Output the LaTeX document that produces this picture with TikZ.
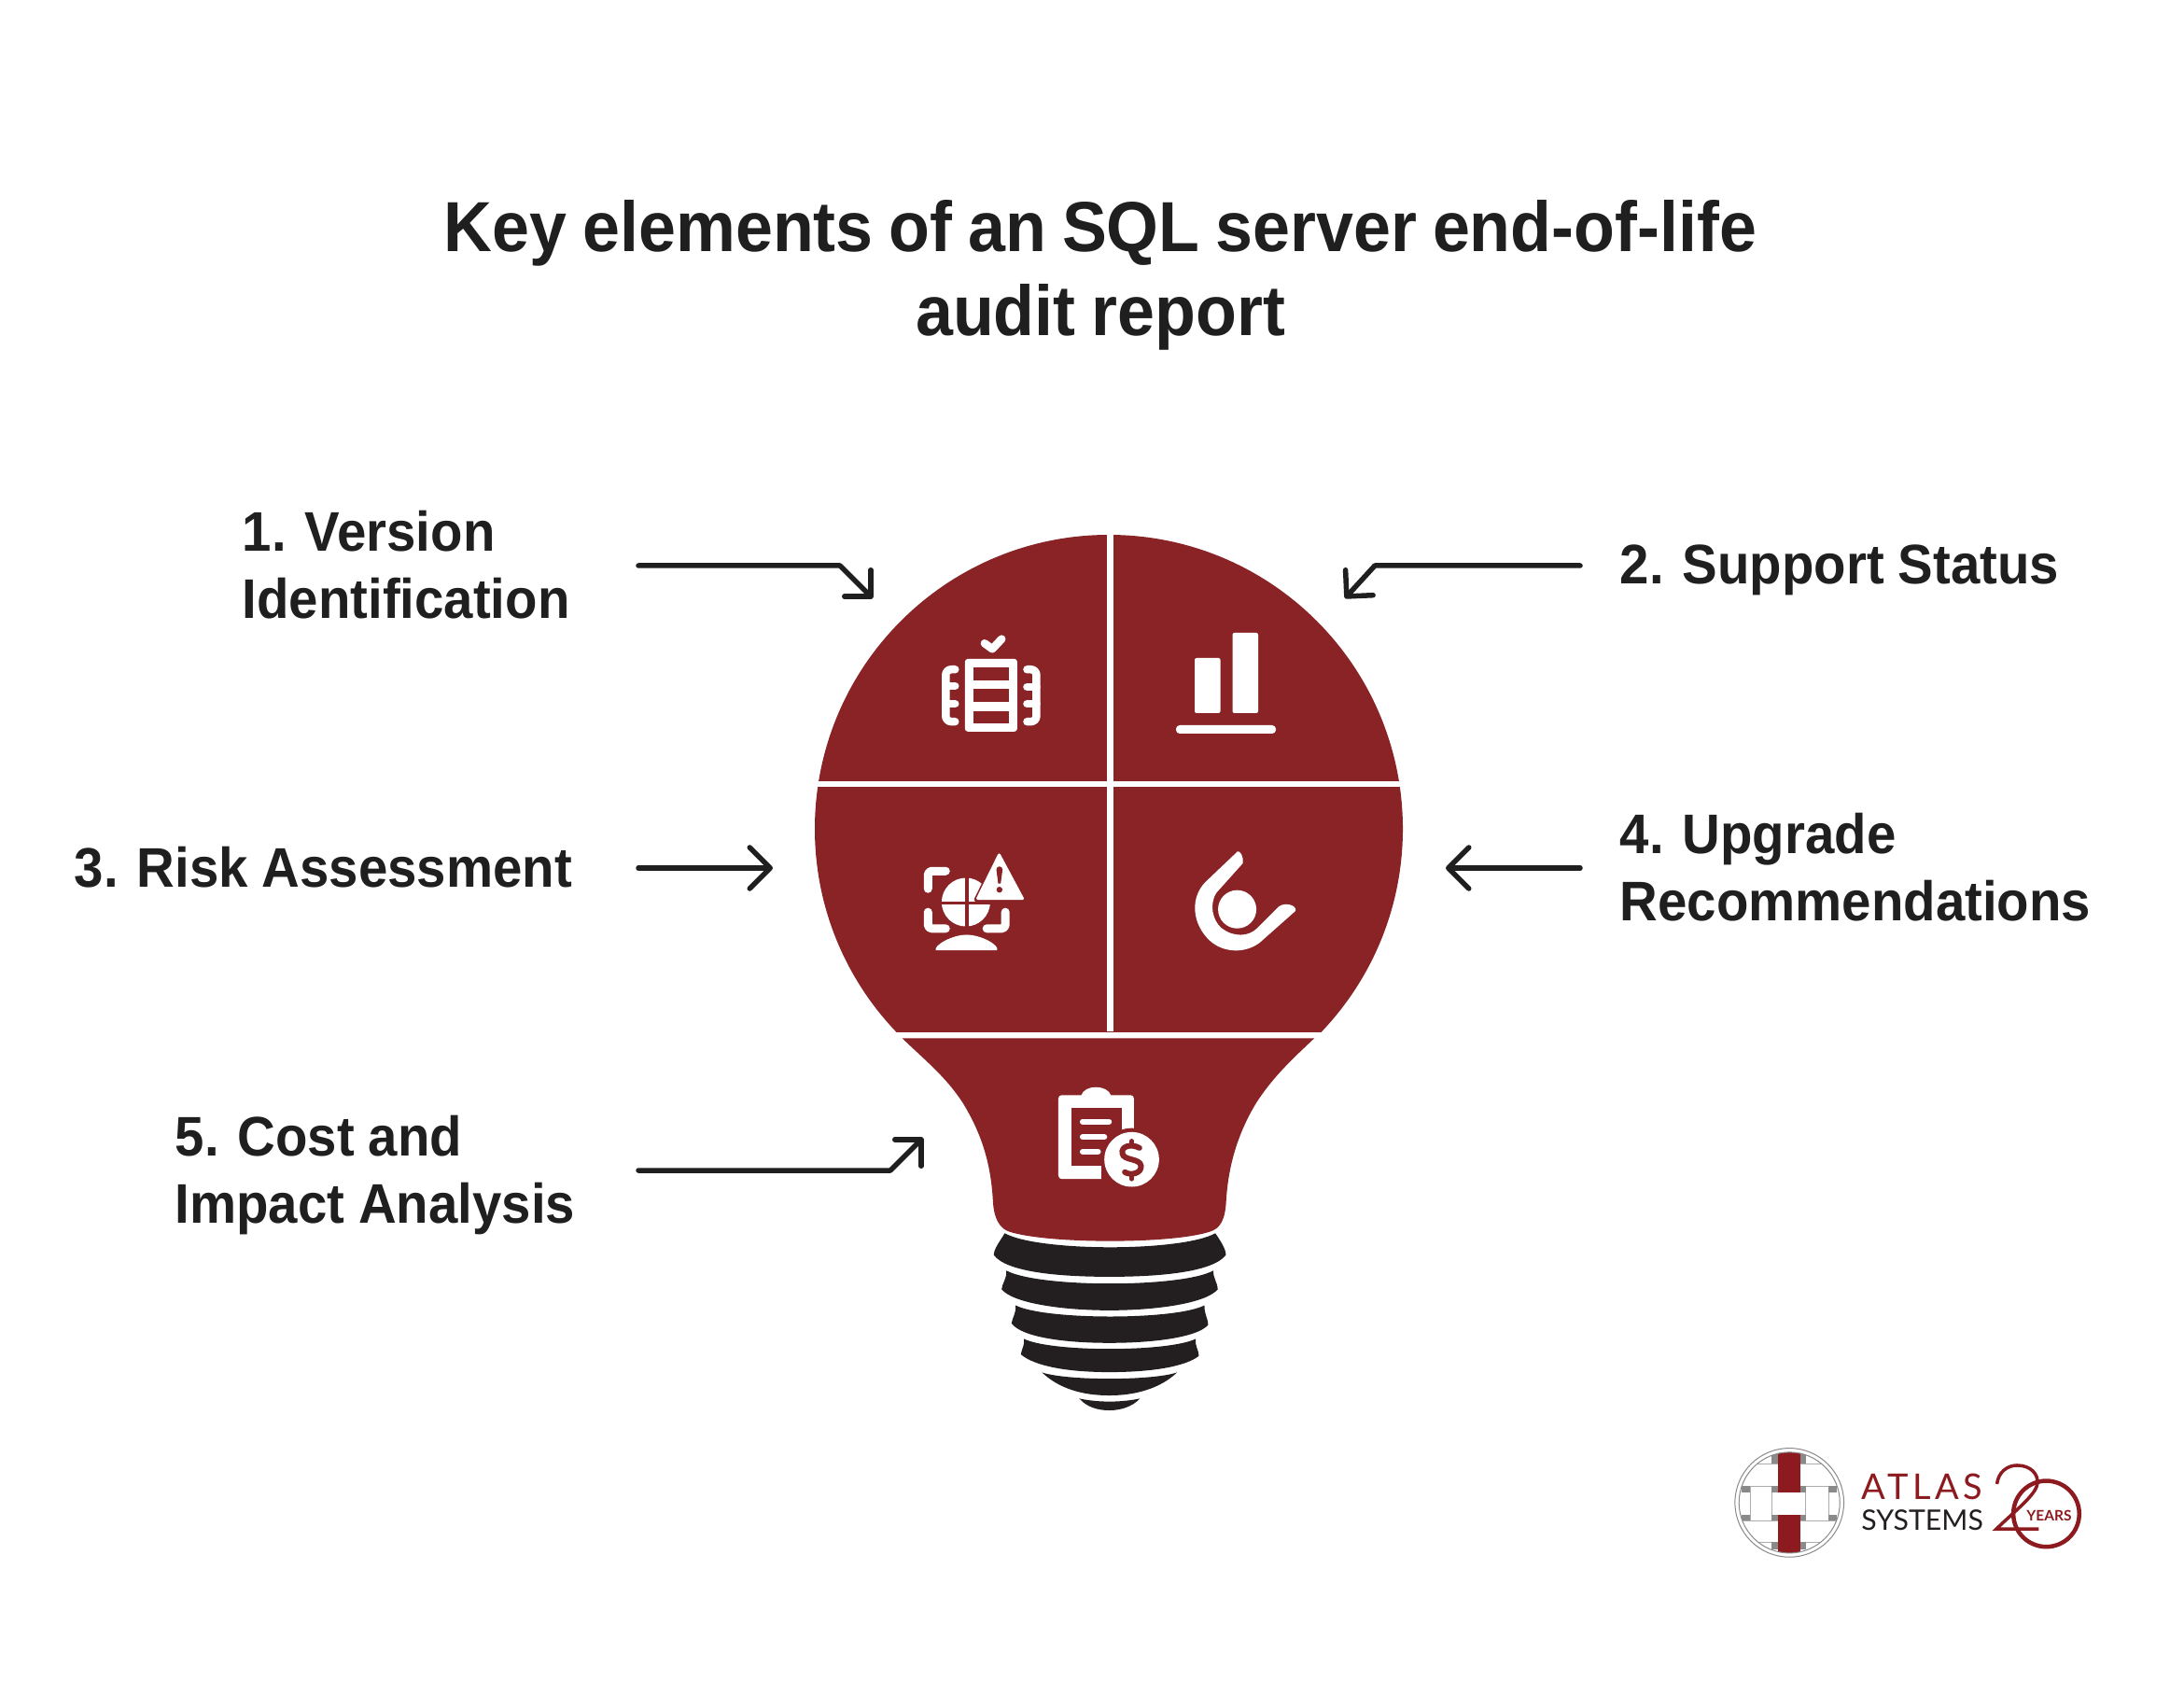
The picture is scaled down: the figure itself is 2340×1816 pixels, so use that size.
\documentclass[tikz,border=0pt]{standalone}
\usepackage{fontspec}
\usetikzlibrary{arrows.meta}
\setmainfont{Liberation Sans}
\newfontfamily\titlef[FakeStretch=0.945,WordSpace=0.85]{Liberation Sans}
\newfontfamily\labf[FakeStretch=0.943,WordSpace=0.95]{Liberation Sans}
\newfontfamily\logoa[LetterSpace=12]{Lato}
\newfontfamily\logob{Lato}
\definecolor{brick}{HTML}{8A2325}
\definecolor{lampblack}{HTML}{231F20}
\definecolor{ink}{HTML}{1F1F1F}
\definecolor{logored}{HTML}{8C1A1E}
\definecolor{logogrey}{HTML}{8A8A8A}
\tikzset{
  x=0.01cm,y=-0.01cm,
  zoomed/.style={x=0.003333cm,y=-0.003333cm},
  titletext/.style={font=\titlef\bfseries\fontsize{21.6}{26}\selectfont,text=ink,inner sep=0,anchor=base},
  labeltext/.style={font=\labf\bfseries\fontsize{17}{20.5}\selectfont,text=ink,inner sep=0,align=left,anchor=north west},
  pointer/.style={draw=ink,line width=0.055cm,line cap=round,line join=round,-{Straight Barb[length=0.22cm,width=0.44cm,round]}},
  bentpointer/.style={draw=ink,line width=0.055cm,line cap=round,line join=round,-{Straight Barb[length=0.2cm,width=0.4cm,round]}},
  iconline/.style={draw=white,line width=0.085cm,line cap=round,line join=round},
  noteline/.style={draw=white,line width=0.06cm,line cap=round},
  thinlogo/.style={draw=logogrey!70,line width=0.008cm},
  logosq/.style={fill=logogrey}
}
\begin{document}
\begin{tikzpicture}
\useasboundingbox (0,0) rectangle (2340,1816);
\fill[white] (0,0) rectangle (2340,1816);
% title
\node[titletext] (title1) at (1179,270) {Key elements of an SQL server end-of-life};
\node[titletext] (title2) at (1179,360) {audit report};
% labels
\node[labeltext] (lab1) at (259,546) {1. Version\\Identification};
\node[labeltext] (lab2) at (1735,583) {2. Support Status};
\node[labeltext] (lab3) at (79,906) {3. Risk Assessment};
\node[labeltext] (lab4) at (1735,870) {4. Upgrade\\Recommendations};
\node[labeltext] (lab5) at (187,1194) {5. Cost and\\Impact Analysis};
% bulb head
\begin{scope}
\clip (800,500) rectangle (1600,1105);
\fill[brick] (1188,888) circle [radius=315];
\end{scope}
% neck and base
\begin{scope}[shift={(950,1100)},zoomed]
\fill[brick] (50,37) .. controls (120,105) and (190,160) .. (245,245) .. controls (300,335) and (335,430) .. (342,560) .. controls (345,620) and (365,650) .. (395,660) .. controls (520,700) and (920,700) .. (1040,660) .. controls (1075,650) and (1090,620) .. (1093,560) .. controls (1100,440) and (1135,335) .. (1190,245) .. controls (1245,160) and (1305,105) .. (1377,37) -- cycle;
\fill[lampblack] (380,665) .. controls (490,725) and (950,725) .. (1058,665) .. controls (1075,690) and (1092,715) .. (1092,735) .. controls (1050,790) and (880,805) .. (717,805) .. controls (555,805) and (385,790) .. (345,735) .. controls (345,715) and (365,690) .. (380,665) -- cycle;
\fill[lampblack] (385,785) .. controls (490,841) and (950,841) .. (1052,785) .. controls (1050,810) and (1066,825) .. (1066,845) .. controls (1030,890) and (870,913) .. (717,913) .. controls (565,913) and (405,890) .. (370,845) .. controls (372,825) and (388,810) .. (385,785) -- cycle;
\fill[lampblack] (415,897) .. controls (510,945) and (930,945) .. (1023,897) .. controls (1022,925) and (1035,940) .. (1035,960) .. controls (1000,1000) and (860,1018) .. (717,1018) .. controls (575,1018) and (435,1000) .. (402,955) .. controls (405,935) and (418,920) .. (415,897) -- cycle;
\fill[lampblack] (442,1005) .. controls (530,1048) and (905,1048) .. (995,1005) .. controls (992,1030) and (1005,1040) .. (1005,1060) .. controls (960,1095) and (850,1112) .. (717,1112) .. controls (590,1112) and (480,1095) .. (432,1055) .. controls (435,1035) and (445,1025) .. (442,1005) -- cycle;
\fill[lampblack] (500,1113) .. controls (580,1140) and (855,1140) .. (935,1113) .. controls (880,1165) and (800,1187) .. (717,1187) .. controls (630,1187) and (555,1165) .. (500,1113) -- cycle;
\fill[lampblack] (620,1197) .. controls (680,1210) and (755,1210) .. (815,1197) .. controls (790,1225) and (750,1235) .. (717,1235) .. controls (680,1235) and (645,1225) .. (620,1197) -- cycle;
\end{scope}
% dividers
\fill[white] (1186,560) rectangle (1192.5,1105);
\fill[white] (860,836.5) rectangle (1520,842.5);
% icon 1
\begin{scope}[shift={(980,660)},zoomed]
\draw[iconline] (225,88) -- (250,106) -- (280,74);
\fill[white,rounded corners=0.03cm] (162,138) rectangle (330,372);
\fill[brick] (190,165) rectangle (303,207);
\fill[brick] (190,235) rectangle (303,277);
\fill[brick] (190,305) rectangle (303,345);
\draw[iconline,rounded corners=0.06cm] (130,172) -- (100,172) -- (100,340) -- (130,340);
\draw[iconline] (100,225) -- (130,225);
\draw[iconline] (100,283) -- (130,283);
\draw[iconline,rounded corners=0.06cm] (362,172) -- (392,172) -- (392,340) -- (362,340);
\draw[iconline] (392,228) -- (362,228);
\draw[iconline] (392,283) -- (362,283);
\end{scope}
% icon 2
\fill[white,rounded corners=0.02cm] (1280,705) rectangle (1307.5,764);
\fill[white,rounded corners=0.02cm] (1320.5,678) rectangle (1348,764);
\fill[white,rounded corners=0.04cm] (1260,777) rectangle (1367,786);
% icon 3
\begin{scope}[shift={(970,890)},zoomed]
\begin{scope}[line cap=round,line join=round,rounded corners=0.04cm]
\draw[white,line width=0.09cm] (130,130) -- (73,130) -- (73,187);
\draw[white,line width=0.09cm] (73,262) -- (73,315) -- (130,315);
\draw[white,line width=0.09cm] (262,315) -- (322,315) -- (322,262);
\end{scope}
\fill[white] (195,230) circle [radius=0.26cm];
\fill[brick] (192,150) rectangle (204,310);
\fill[brick] (115,228) rectangle (275,238);
\draw[brick,line width=0.045cm,line join=round] (302,72) -- (228,222) -- (382,222) -- cycle;
\filldraw[white,draw=white,line width=0.03cm,line join=round] (302,78) -- (233,218) -- (377,218) -- cycle;
\fill[brick] (293,125) .. controls (293,112) and (313,112) .. (313,125) -- (307,170) -- (299,170) -- cycle;
\fill[brick] (303,190) circle [radius=0.032cm];
\fill[white] (98,385) .. controls (90,370) and (150,335) .. (197,335) .. controls (245,335) and (305,370) .. (295,385) -- cycle;
\end{scope}
% icon 4
\begin{scope}[shift={(1260,890)},zoomed]
\fill[white] (198,67) .. controls (205,62) and (220,85) .. (215,105) -- (130,200) .. controls (105,240) and (120,290) .. (145,312) .. controls (185,345) and (235,340) .. (260,315) -- (330,245) .. controls (350,228) and (390,240) .. (385,258) -- (270,360) .. controls (225,395) and (155,395) .. (110,355) .. controls (50,300) and (45,215) .. (95,165) -- cycle;
\fill[white] (197,253) circle [radius=0.205cm];
\end{scope}
% icon 5
\begin{scope}[shift={(1120,1150)},zoomed]
\fill[white,rounded corners=0.035cm] (42,70) rectangle (285,340);
\fill[white] (115,72) .. controls (125,35) and (200,35) .. (212,72) -- cycle;
\fill[brick] (83,110) rectangle (245,298);
\draw[noteline] (120,155) -- (205,155);
\draw[noteline] (120,205) -- (190,205);
\draw[noteline] (120,252) -- (170,252);
\fill[brick] (278,277) circle [radius=0.335cm];
\fill[brick] (285,175) rectangle (290,345);
\fill[brick] (180,345) rectangle (290,300);
\fill[white] (278,277) circle [radius=0.293cm];
\draw[brick,line width=0.06cm,line cap=round] (303,240) .. controls (275,225) and (243,235) .. (248,258) .. controls (252,282) and (305,272) .. (308,298) .. controls (310,322) and (275,330) .. (256,318);
\draw[brick,line width=0.05cm,line cap=round] (278,218) -- (278,228);
\draw[brick,line width=0.05cm,line cap=round] (278,330) -- (278,340);
\end{scope}
% pointers
\coordinate (p1a) at (684,606); \coordinate (p1b) at (900,606); \coordinate (p1c) at (935,641);
\coordinate (p2a) at (1693,606); \coordinate (p2b) at (1473,606); \coordinate (p2c) at (1441,641);
\coordinate (p3a) at (684,930); \coordinate (p3c) at (828,930);
\coordinate (p4a) at (1693,930); \coordinate (p4c) at (1549,930);
\coordinate (p5a) at (684,1254); \coordinate (p5b) at (954,1254); \coordinate (p5c) at (989,1219);
\draw[bentpointer] (p1a) -- (p1b) -- (p1c);
\draw[bentpointer] (p2a) -- (p2b) -- (p2c);
\draw[pointer] (p3a) -- (p3c);
\draw[pointer] (p4a) -- (p4c);
\draw[bentpointer] (p5a) -- (p5b) -- (p5c);
% logo
\begin{scope}[shift={(1840,1540)},zoomed]
\draw[logogrey,line width=0.01cm] (232,210) circle [radius=0.583cm];
\begin{scope}
\clip (232,210) circle [radius=0.54cm];
\draw[thinlogo] (78,157) -- (385,157);
\draw[thinlogo] (78,268) -- (385,268);
\draw[thinlogo] (105,157) -- (105,268);
\draw[thinlogo] (175,157) -- (175,268);
\draw[thinlogo] (285,157) -- (285,268);
\draw[thinlogo] (358,157) -- (358,268);
\draw[thinlogo] (130,85) -- (335,85);
\draw[thinlogo] (130,338) -- (335,338);
\fill[logosq] (175,55) rectangle (195,85);
\fill[logosq] (268,55) rectangle (285,85);
\fill[logosq] (175,338) rectangle (195,362);
\fill[logosq] (268,338) rectangle (285,362);
\foreach \xa/\xb in {78/105,175/195,268/285,358/385}{
  \fill[logosq] (\xa,155) rectangle (\xb,178);
  \fill[logosq] (\xa,248) rectangle (\xb,268);
}
\fill[logored] (195,40) rectangle (268,178);
\fill[logored] (195,248) rectangle (268,380);
\end{scope}
\draw[logogrey,line width=0.01cm] (232,210) circle [radius=0.54cm];
\node[font=\logoa\fontsize{10.8}{12}\selectfont,text=logored,inner sep=0,anchor=base west] (atlas) at (462,200) {ATLAS};
\node[font=\logob\fontsize{8.6}{10}\selectfont,text=lampblack,inner sep=0,anchor=base west] (systems) at (462,298) {SYSTEMS};
\draw[logored,line width=0.035cm] (900,150) .. controls (905,110) and (935,90) .. (965,90) .. controls (1010,90) and (1035,120) .. (1030,150) .. controls (1025,185) and (960,235) .. (898,295) -- (1035,295);
\draw[logored,line width=0.045cm] (1059,246) circle [radius=0.353cm];
\node[font=\logob\bfseries\fontsize{4.4}{5}\selectfont,text=logored,inner sep=0,anchor=base] (years) at (1068,268) {YEARS};
\end{scope}
\end{tikzpicture}
\end{document}
